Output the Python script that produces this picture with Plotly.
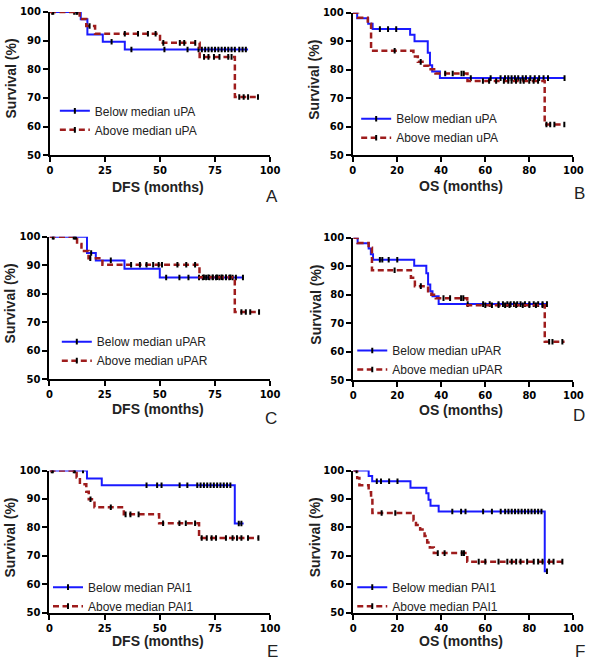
import numpy as np
import plotly.graph_objects as go

# ---------------- data ----------------
# Panel A: DFS, uPA
A_below_t = [14, 17, 24, 34]
A_below_s = [97.4, 92.1, 89.6, 86.9]
A_below_c = [1, 11, 12.5, 28, 37, 52, 62.5, 67.5, 69, 70.5, 72, 73.5, 75, 76.5, 78, 79.5, 81, 82.5, 84, 86, 87.5, 89]
A_below_end = 90
A_above_t = [13.5, 16.5, 20.5, 50, 68, 84]
A_above_s = [97.5, 95.1, 92.4, 89.2, 84.3, 70.3]
A_above_c = [1.5, 12, 18, 34, 40, 44.5, 48, 51.5, 59, 61, 66, 70, 72, 74.5, 77, 81, 82.5, 86, 88, 90, 94.5]
A_above_end = 95

# Panel B: OS, uPA
B_below_t = [2, 7, 9, 26, 28, 34, 35, 36, 39.5]
B_below_s = [98.1, 96.2, 94.3, 92.3, 90.0, 86.0, 81.6, 79.4, 77.1]
B_below_c = [12.3, 16, 19.7, 53.5, 62.5, 67, 69, 70.5, 72, 73.5, 75, 77, 78.5, 80.5, 82.5, 84.5, 86.5, 88.5, 96]
B_below_end = 96
B_above_t = [2.4, 6.8, 8.3, 27.5, 29.5, 32.5, 34.5, 37.5, 52, 87]
B_above_s = [98.3, 96.2, 86.7, 84.7, 82.8, 81.4, 80.2, 78.7, 76.1, 60.8]
B_above_c = [19, 30.8, 41.9, 45.3, 49.3, 50.3, 59, 61.8, 65, 68.5, 70.5, 72, 74, 76, 77.5, 80, 82, 84, 87.8, 89.5, 91.4, 95.9]
B_above_end = 96

# Panel C: DFS, uPAR
C_below_t = [17, 21, 34, 50]
C_below_s = [94.3, 91.7, 88.8, 85.7]
C_below_c = [1.9, 11.5, 18.9, 27.8, 52.9, 58.9, 63, 67.8, 69.5, 71, 72.5, 74, 75.5, 77, 78.5, 80, 81.5, 83, 84.5, 87.7]
C_below_end = 88
C_above_t = [12.5, 14.5, 17.7, 24, 68, 84]
C_above_s = [97.5, 95.0, 92.5, 90.2, 85.8, 73.6]
C_above_c = [1.5, 11, 12, 18.5, 37, 41, 44, 47, 49.5, 51, 58, 62, 66, 70, 72, 74, 76, 78, 80, 82, 87, 89, 91, 95]
C_above_end = 95

# Panel D: OS, uPAR
D_below_t = [2, 7, 8, 9, 27.7, 33.2, 34, 35, 36, 38.8]
D_below_s = [98.1, 96.2, 94.2, 92.3, 90.2, 87.5, 83.6, 81.2, 79.5, 76.7]
D_below_c = [12.1, 13.2, 16.1, 20, 52, 59, 62, 66, 68, 70, 71.5, 73, 74.5, 76, 78, 80, 82, 84, 86, 88]
D_below_end = 88
D_above_t = [2, 7, 8.5, 26.2, 28, 34, 35.5, 37.5, 51.8, 87]
D_above_s = [98.2, 96.5, 88.6, 86.0, 83.0, 81.2, 80.0, 78.8, 76.3, 63.5]
D_above_c = [18.8, 30.7, 41, 44, 49, 50, 60, 63, 66, 69, 71, 74, 77, 80, 83, 86, 89, 90.5, 95]
D_above_end = 96

# Panel E: DFS, PAI1
E_below_t = [17, 23.7, 84]
E_below_s = [97.2, 94.8, 81.4]
E_below_c = [1, 11, 15.2, 44, 48.8, 50.8, 59, 62.5, 67, 68.5, 70, 71.5, 73, 74.5, 76, 77.5, 79, 80.5, 82, 85.8, 87]
E_below_end = 88
E_above_t = [12.3, 13.8, 16.7, 17.8, 20.4, 33.7, 49.7, 67.8]
E_above_s = [97.5, 95.2, 92.5, 89.9, 87.1, 84.6, 81.5, 76.3]
E_above_c = [1.5, 11.5, 18.6, 27.8, 34.5, 36.7, 40.4, 51.5, 58.9, 61.8, 66, 69, 71.3, 73.5, 75.5, 80, 83, 85, 87, 90, 94.7]
E_above_end = 95

# Panel F: OS, PAI1
F_below_t = [7, 8.6, 26, 33.2, 34.2, 35.1, 38.8, 87]
F_below_s = [98.1, 96.2, 93.9, 92.0, 89.7, 87.6, 85.6, 64.6]
F_below_c = [10.7, 12.6, 16.3, 20.1, 45, 49, 51, 59, 63, 67, 69, 70.5, 72, 73.5, 75, 76.5, 78, 79.5, 81, 82.5, 84, 85.5, 88]
F_below_end = 88
F_above_t = [1.8, 2.8, 7, 8.1, 8.7, 27.4, 28.5, 30.4, 32.4, 33.6, 34.8, 36.6, 51.8]
F_above_s = [97.4, 94.8, 92.4, 90.1, 85.1, 82.4, 80.9, 79.3, 77.0, 74.7, 73.0, 71.0, 68.0]
F_above_c = [1.5, 12.9, 19.1, 38.4, 41.5, 49.3, 50.3, 57, 60, 66, 70, 72, 74, 76, 79, 82, 84, 86, 89, 91, 95]
F_above_end = 96

labels_below = ["Below median uPA", "Below median uPA", "Below median uPAR",
                "Below median uPAR", "Below median PAI1", "Below median PAI1"]
labels_above = ["Above median uPA", "Above median uPA", "Above median uPAR",
                "Above median uPAR", "Above median PAI1", "Above median PAI1"]
x_titles = ["DFS (months)", "OS (months)", "DFS (months)", "OS (months)", "DFS (months)", "OS (months)"]
panel_letters = ["A", "B", "C", "D", "E", "F"]
x_ticks_dfs = [0, 25, 50, 75, 100]
x_ticks_os = [0, 20, 40, 60, 80, 100]
y_ticks = [50, 60, 70, 80, 90, 100]

panels = [
    (A_below_t, A_below_s, A_below_c, A_below_end, A_above_t, A_above_s, A_above_c, A_above_end),
    (B_below_t, B_below_s, B_below_c, B_below_end, B_above_t, B_above_s, B_above_c, B_above_end),
    (C_below_t, C_below_s, C_below_c, C_below_end, C_above_t, C_above_s, C_above_c, C_above_end),
    (D_below_t, D_below_s, D_below_c, D_below_end, D_above_t, D_above_s, D_above_c, D_above_end),
    (E_below_t, E_below_s, E_below_c, E_below_end, E_above_t, E_above_s, E_above_c, E_above_end),
    (F_below_t, F_below_s, F_below_c, F_below_end, F_above_t, F_above_s, F_above_c, F_above_end),
]

# ---------------- layout geometry (pixels) ----------------
W, H = 600, 668
# plot areas: (left, right, top, bottom)
areas = [(48, 273, 6, 152), (357.5, 583, 7, 152),
         (47.5, 273, 235, 380), (358, 583, 236, 381),
         (47.5, 273, 473, 618), (358, 583, 473, 618)]
legend_pos = [(53, 92), (361, 100), (55, 327), (357, 336), (46, 577), (357, 577)]
ytitle_x = [8, 318, 7, 319, 7.5, 319]
xtitle_y_off = [32, 31, 30, 30, 29, 29]
letter_pos = [(274.5, 194), (589, 191), (273.5, 420), (589, 417), (275, 657), (590, 657)]

BLUE = "#1a1aff"
RED = "#9e1c1c"
FONT = "Liberation Sans, Arial, sans-serif"
TICKFONT = "DejaVu Sans, Arial, sans-serif"


def step_value(t, s, c):
    t = np.asarray(t, float)
    s = np.asarray(s, float)
    idx = np.searchsorted(t, np.asarray(c, float), side="right")
    vals = np.concatenate([[100.0], s])
    return vals[idx]


fig = go.Figure()
annotations = []
layout = dict()

for i, (bt, bs, bc, be, at, as_, ac, ae) in enumerate(panels):
    n = i + 1
    xa = "x" if n == 1 else f"x{n}"
    ya = "y" if n == 1 else f"y{n}"
    lg = "legend" if n == 1 else f"legend{n}"
    for (t, s, c, e, col, dash, name) in [
        (bt, bs, bc, be, BLUE, "solid", labels_below[i]),
        (at, as_, ac, ae, RED, "6px,3.5px", labels_above[i]),
    ]:
        xs = [0] + list(t) + [e]
        ys = [100] + list(s) + [s[-1]]
        lw = 2 if col == BLUE else 2.5
        fig.add_trace(go.Scatter(x=xs, y=ys, mode="lines", line=dict(color=col, width=lw, dash=dash, shape="hv"),
                                 xaxis=xa, yaxis=ya, showlegend=False, hoverinfo="skip"))
        fig.add_trace(go.Scatter(x=c, y=step_value(t, s, c), mode="markers",
                                 marker=dict(symbol="line-ns", size=4, color="black",
                                             line=dict(width=2, color="black")),
                                 xaxis=xa, yaxis=ya, showlegend=False, hoverinfo="skip"))
        # legend entry
        fig.add_trace(go.Scatter(x=[None], y=[None], mode="lines+markers", name=name,
                                 line=dict(color=col, width=lw, dash=dash),
                                 marker=dict(symbol="line-ns", size=4, color="black",
                                             line=dict(width=2, color="black")),
                                 xaxis=xa, yaxis=ya, legend=lg, showlegend=True))

    l, r, tp, bt_ = areas[i]
    xdom = [l / W, r / W]
    ydom = [1 - bt_ / H, 1 - tp / H]
    xticks = x_ticks_dfs if x_titles[i].startswith("DFS") else x_ticks_os
    layout["xaxis" if n == 1 else f"xaxis{n}"] = dict(
        domain=xdom, range=[0, 100], anchor=ya, showgrid=False, zeroline=False,
        showline=True, linecolor="black", linewidth=2, ticks="outside", ticklen=5, tickwidth=2,
        tickcolor="black", tickvals=xticks, ticktext=[str(v) for v in xticks],
        tickfont=dict(family=TICKFONT, size=10, color="black", weight="bold"))
    layout["yaxis" if n == 1 else f"yaxis{n}"] = dict(
        domain=ydom, range=[50, 100], anchor=xa, showgrid=False, zeroline=False,
        showline=True, linecolor="black", linewidth=2, ticks="outside", ticklen=5, tickwidth=2,
        tickcolor="black", tickvals=y_ticks, ticktext=[str(v) for v in y_ticks],
        tickfont=dict(family=TICKFONT, size=10, color="black", weight="bold"))
    lx, ly = legend_pos[i]
    layout[lg] = dict(x=lx / W, y=1 - ly / H, xanchor="left", yanchor="top",
                      bgcolor="rgba(0,0,0,0)", font=dict(family=FONT, size=12, color="#222"),
                      tracegroupgap=0, itemwidth=30)

    # axis titles and panel letter
    annotations.append(dict(text="Survival (%)", textangle=-90, xref="paper", yref="paper",
                            x=ytitle_x[i] / W, y=1 - (tp + 68) / H, xanchor="center", yanchor="middle",
                            showarrow=False, font=dict(family=FONT, size=14, color="#222", weight="bold")))
    annotations.append(dict(text=x_titles[i], xref="paper", yref="paper",
                            x=(l + r) / 2 / W - 2 / W, y=1 - (bt_ + xtitle_y_off[i]) / H,
                            xanchor="center", yanchor="middle", showarrow=False,
                            font=dict(family=FONT, size=14, color="#222", weight="bold")))
    px, py = letter_pos[i]
    annotations.append(dict(text=panel_letters[i], xref="paper", yref="paper",
                            x=px / W, y=1 - py / H, xanchor="center", yanchor="middle", showarrow=False,
                            font=dict(family=FONT, size=17, color="#222")))

fig.update_layout(width=W, height=H, margin=dict(l=0, r=0, t=0, b=0),
                  paper_bgcolor="white", plot_bgcolor="white",
                  annotations=annotations, **layout)

# remove the default page margin so the figure sits at the window's top-left corner
fig.write_html("out.html", config={"displayModeBar": False},
               post_script="document.body.style.margin='0';")
